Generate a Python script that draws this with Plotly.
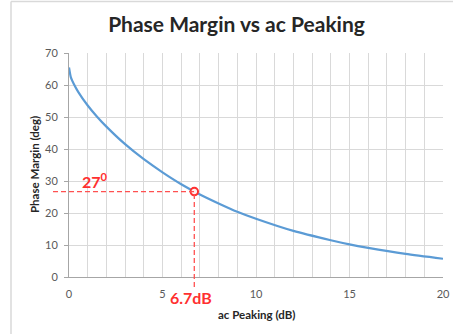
import plotly.graph_objects as go

# Data
peaking_db = [0, 0.1, 0.25, 0.5, 1, 1.5, 2, 3, 4, 5, 6, 7, 8, 9, 10, 12, 14, 15, 16, 18, 20]
phase_margin_deg = [65.5, 62.4, 60.4, 57.8, 53.6, 50.1, 47.0, 41.5, 36.8, 32.7, 29.0, 25.8, 23.0,
                    20.4, 18.2, 14.4, 11.5, 10.2, 9.1, 7.2, 5.7]
marked_peaking = [6.7]
marked_pm = [26.7]
x_ticks = [0, 5, 10, 15, 20]
y_ticks = [0, 10, 20, 30, 40, 50, 60, 70]
x_range = [0, 20]
y_range = [0, 70]

FONT = "Lato, 'Open Sans', sans-serif"
RED = "#FF3030"
DASH_RED = "#FF5050"
GRID = "#D9D9D9"
AXIS = "#A6A6A6"

W, H = 453, 334
ml, mr, mt, mb = 69, 10, 53, 57
pw = W - ml - mr
ph = H - mt - mb

fig = go.Figure()
fig.add_trace(go.Scatter(
    x=peaking_db, y=phase_margin_deg, mode="lines",
    line=dict(color="#5B9BD5", width=2.2, shape="spline", smoothing=0.6),
    hoverinfo="skip", showlegend=False))

mx, my = marked_peaking[0], marked_pm[0]
# dashed guide lines (extend slightly beyond axes)
fig.add_shape(type="line", xref="paper", yref="y",
              x0=-16 / pw, x1=(mx - x_range[0]) / (x_range[1] - x_range[0]), y0=my, y1=my,
              line=dict(color=DASH_RED, width=1.3, dash="5px,3px"), layer="above")
fig.add_shape(type="line", xref="x", yref="paper",
              x0=mx, x1=mx, y0=-10 / ph, y1=(my - y_range[0]) / (y_range[1] - y_range[0]),
              line=dict(color=DASH_RED, width=1.3, dash="5px,3px"), layer="above")

fig.add_trace(go.Scatter(
    x=marked_peaking, y=marked_pm, mode="markers",
    marker=dict(symbol="circle", size=7.5, color="#FFF0F0", line=dict(color=RED, width=2)),
    cliponaxis=False, showlegend=False))

# chart-area border (left & top visible)
bx = -(ml - 11) / pw
by = 1 + (mt - 1.5) / ph
fig.add_shape(type="line", xref="paper", yref="paper", x0=bx, x1=bx, y0=-1, y1=by,
              line=dict(color="#D9D9D9", width=1.5))
fig.add_shape(type="line", xref="paper", yref="paper", x0=bx, x1=2, y0=by, y1=by,
              line=dict(color="#D9D9D9", width=1.5))

annotations = [
    dict(text="27<sup>0</sup>", x=1.4, y=30.3, xref="x", yref="y", showarrow=False,
         xanchor="center", yanchor="middle",
         font=dict(family=FONT, size=16, color=RED, weight="bold")),
    dict(text="6.7dB", x=6.55, y=-(297 - (mt + ph)) / ph, xref="x", yref="paper", showarrow=False,
         xanchor="center", yanchor="middle",
         font=dict(family=FONT, size=16, color=RED, weight="bold")),
    dict(text="Phase Margin (deg)", x=(34 - ml) / pw, y=0.5, xref="paper", yref="paper",
         showarrow=False, textangle=-90, xanchor="center", yanchor="middle",
         font=dict(family=FONT, size=11.5, color="#262626", weight="bold")),
    dict(text="ac Peaking (dB)", x=0.5, y=-(314 - (mt + ph)) / ph, xref="paper", yref="paper",
         showarrow=False, xanchor="center", yanchor="middle",
         font=dict(family=FONT, size=11.5, color="#262626", weight="bold")),
]

fig.update_layout(
    width=W, height=H,
    margin=dict(l=ml, r=mr, t=mt, b=mb, autoexpand=False),
    paper_bgcolor="white", plot_bgcolor="white",
    title=dict(text="Phase Margin vs ac Peaking", x=236.5 / W, xanchor="center",
               y=1 - 25 / H, yanchor="middle",
               font=dict(family=FONT, size=21, color="#262626", weight="bold")),
    annotations=annotations,
    xaxis=dict(range=x_range, tickvals=x_ticks, ticks="", showline=True, linecolor=AXIS,
               linewidth=1, showgrid=True, gridcolor=GRID, gridwidth=1, zeroline=False,
               automargin=False,
               tickfont=dict(family=FONT, size=11, color="#595959"),
               ticklabelstandoff=7,
               minor=dict(dtick=1, showgrid=True, gridcolor=GRID, gridwidth=1),
               fixedrange=True),
    yaxis=dict(range=y_range, tickvals=y_ticks, ticks="outside", ticklen=4, tickcolor=AXIS,
               showline=True, linecolor=AXIS, linewidth=1, showgrid=True, gridcolor=GRID,
               gridwidth=1, zeroline=False, automargin=False,
               tickfont=dict(family=FONT, size=11, color="#595959"),
               ticklabelstandoff=4, fixedrange=True),
)

fig.write_html("out.html")
